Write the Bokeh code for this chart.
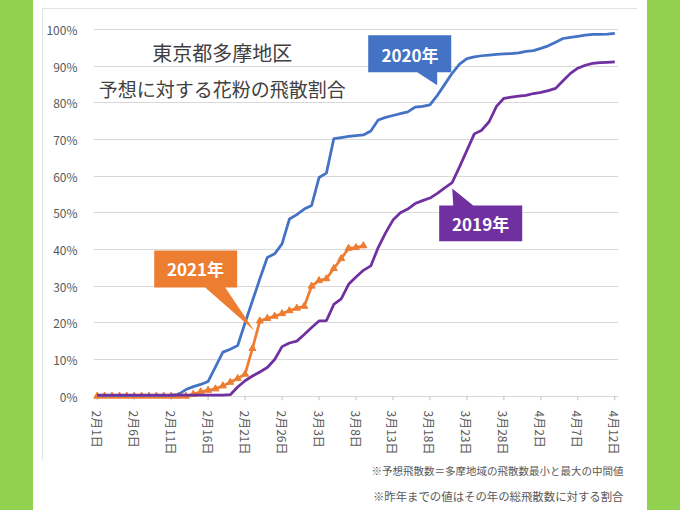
from bokeh.plotting import figure
from bokeh.models import Range1d, FixedTicker, PrintfTickFormatter, Label, Spacer
from bokeh.layouts import row, column
from bokeh.embed import file_html
from bokeh.resources import INLINE

# ---- data ----
tick_days = [0, 5, 10, 15, 20, 25, 30, 35, 40, 45, 50, 55, 60, 65, 70]
tick_labels = ["2月1日", "2月6日", "2月11日", "2月16日", "2月21日", "2月26日", "3月3日",
               "3月8日", "3月13日", "3月18日", "3月23日", "3月28日", "4月2日", "4月7日", "4月12日"]
y_ticks = [0, 10, 20, 30, 40, 50, 60, 70, 80, 90, 100]

pollen_2020 = [0.2, 0.2, 0.2, 0.2, 0.2, 0.2, 0.2, 0.2, 0.2, 0.2, 0.2,
               0.5, 1.8, 2.6, 3.2, 4.0, 8.0, 12.0, 12.8, 13.8, 20.0,
               26.0, 32.0, 37.8, 38.8, 41.5, 48.3, 49.5, 51.0, 52.0, 59.6,
               60.8, 70.2, 70.5, 70.8, 71.0, 71.2, 72.3, 75.3, 76.0, 76.5,
               77.0, 77.5, 78.8, 79.0, 79.4, 82.0, 85.0, 88.0, 90.5, 92.0,
               92.5, 92.8, 93.0, 93.2, 93.3, 93.4, 93.6, 94.0, 94.2, 94.8,
               95.5, 96.5, 97.5, 97.8, 98.1, 98.4, 98.6, 98.6, 98.7, 98.9]

pollen_2019 = [0.3, 0.3, 0.3, 0.3, 0.3, 0.3, 0.3, 0.3, 0.3, 0.3, 0.3,
               0.3, 0.3, 0.3, 0.3, 0.3, 0.3, 0.3, 0.4, 2.5, 4.2,
               5.5, 6.6, 7.8, 10.0, 13.5, 14.5, 15.0, 16.8, 18.7, 20.5,
               20.6, 25.0, 26.5, 30.5, 32.5, 34.3, 35.5, 40.5, 44.5, 48.0,
               50.0, 51.0, 52.5, 53.3, 54.0, 55.3, 56.8, 58.2, 62.5, 67.0,
               71.5, 72.5, 74.8, 79.0, 81.2, 81.5, 81.8, 82.0, 82.5, 82.8,
               83.3, 83.9, 86.0, 88.0, 89.4, 90.2, 90.7, 90.9, 91.0, 91.1]

pollen_2021 = [0, 0, 0, 0, 0, 0, 0, 0, 0, 0, 0, 0, 0,
               0.5, 1.2, 1.6, 2.0, 2.8, 3.8, 4.8, 6.0, 13.0, 20.5,
               21.2, 21.8, 22.5, 23.3, 24.0, 24.5, 30.0, 31.5, 32.0, 34.8,
               37.5, 40.3, 40.5, 41.0]

days_2020 = list(range(len(pollen_2020)))
days_2019 = list(range(len(pollen_2019)))
days_2021 = list(range(len(pollen_2021)))

BLUE = "#4472C4"
PURPLE = "#7030A0"
ORANGE = "#ED7D31"
GREEN = "#92D050"
FONT = "Noto Sans CJK JP"

p = figure(width=595, height=452, output_backend="svg", toolbar_location=None,
           x_range=Range1d(-0.5, 70.5), y_range=Range1d(-2, 100.5),
           min_border_left=51, min_border_right=19, min_border_top=19, min_border_bottom=57,
           styles={"outline": "1px solid #D9D9D9", "outline-offset": "-1px"})
p.outline_line_color = None
p.background_fill_color = "white"
p.border_fill_color = "white"

# axes
p.xaxis.ticker = FixedTicker(ticks=tick_days)
p.xaxis.major_label_overrides = {d: t for d, t in zip(tick_days, tick_labels)}
p.xaxis.major_label_orientation = "vertical"
p.xaxis.axis_line_color = None
p.xaxis.major_tick_line_color = None
p.xaxis.minor_tick_line_color = None
p.xaxis.major_label_text_font = FONT
p.xaxis.major_label_text_font_size = "12px"
p.xaxis.major_label_text_color = "#595959"
p.xaxis.major_label_standoff = 1

p.yaxis.ticker = FixedTicker(ticks=y_ticks)
p.yaxis.formatter = PrintfTickFormatter(format="%d%%")
p.yaxis.axis_line_color = None
p.yaxis.major_tick_line_color = None
p.yaxis.minor_tick_line_color = None
p.yaxis.major_label_text_font = FONT
p.yaxis.major_label_text_font_size = "12px"
p.yaxis.major_label_text_color = "#595959"
p.yaxis.major_label_standoff = 10

p.xgrid.grid_line_color = None
p.ygrid.ticker = FixedTicker(ticks=y_ticks)
p.ygrid.grid_line_color = "#D9D9D9"
p.ygrid.grid_line_width = 1

# small tick marks hanging below the 0% line
p.segment(x0=tick_days, y0=[0] * len(tick_days), x1=tick_days, y1=[-1.1] * len(tick_days),
          line_color="#BFBFBF", line_width=1)

# series
p.line(days_2021, pollen_2021, line_color=ORANGE, line_width=2.75)
p.scatter(days_2021, pollen_2021, marker="triangle", size=7, fill_color=ORANGE, line_color=ORANGE)
p.line(days_2020, pollen_2020, line_color=BLUE, line_width=2.75)
p.line(days_2019, pollen_2019, line_color=PURPLE, line_width=2.75)

# title
p.add_layout(Label(x=16.9, y=93.7, text="東京都多摩地区", text_align="center", text_baseline="middle",
                   text_font=FONT, text_font_size="20px", text_color="#404040"))
p.add_layout(Label(x=16.9, y=83.9, text="予想に対する花粉の飛散割合", text_align="center",
                   text_baseline="middle", text_font=FONT, text_font_size="19px", text_color="#404040"))

# callouts
p.patch([36.65, 47.88, 47.88, 45.98, 45.98, 43.28, 36.65],
        [98.36, 98.36, 88.27, 88.27, 84.73, 88.27, 88.27], color=BLUE, line_width=0)
p.add_layout(Label(x=42.3, y=93.2, text="2020年", text_align="center", text_baseline="middle",
                   text_font=FONT, text_font_size="17px", text_font_style="bold", text_color="white"))

p.patch([46.25, 48.15, 48.02, 50.85, 57.48, 57.48, 46.25],
        [52.0, 52.0, 56.6, 52.0, 52.0, 42.2, 42.2], color=PURPLE, line_width=0)
p.add_layout(Label(x=51.85, y=47.1, text="2019年", text_align="center", text_baseline="middle",
                   text_font=FONT, text_font_size="17px", text_font_style="bold", text_color="white"))

p.patch([7.71, 18.93, 18.93, 17.31, 21.23, 14.61, 7.71],
        [39.73, 39.73, 29.64, 29.64, 17.92, 29.64, 29.64], color=ORANGE, line_width=0)
p.add_layout(Label(x=13.3, y=34.7, text="2021年", text_align="center", text_baseline="middle",
                   text_font=FONT, text_font_size="17px", text_font_style="bold", text_color="white"))

# footnotes in a small strip below the chart box
notes = figure(width=614, height=50, output_backend="svg", toolbar_location=None,
               x_range=Range1d(0, 614), y_range=Range1d(0, 50),
               min_border_left=0, min_border_right=0, min_border_top=0, min_border_bottom=0)
notes.axis.visible = False
notes.grid.visible = False
notes.outline_line_color = None
notes.add_layout(Label(x=590, y=40, text="※予想飛散数＝多摩地域の飛散数最小と最大の中間値",
                       text_align="right", text_baseline="middle", text_font=FONT,
                       text_font_size="10.5px", text_color="#595959"))
notes.add_layout(Label(x=590, y=15, text="※昨年までの値はその年の総飛散数に対する割合",
                       text_align="right", text_baseline="middle", text_font=FONT,
                       text_font_size="11.4px", text_color="#595959"))

middle = column(Spacer(width=614, height=8),
                row(Spacer(width=9, height=452), p, Spacer(width=10, height=452)),
                notes)
layout = row(Spacer(width=33, height=510, styles={"background-color": GREEN}),
             middle,
             Spacer(width=33, height=510, styles={"background-color": GREEN}))

open("out.html", "w").write(file_html(layout, INLINE))
